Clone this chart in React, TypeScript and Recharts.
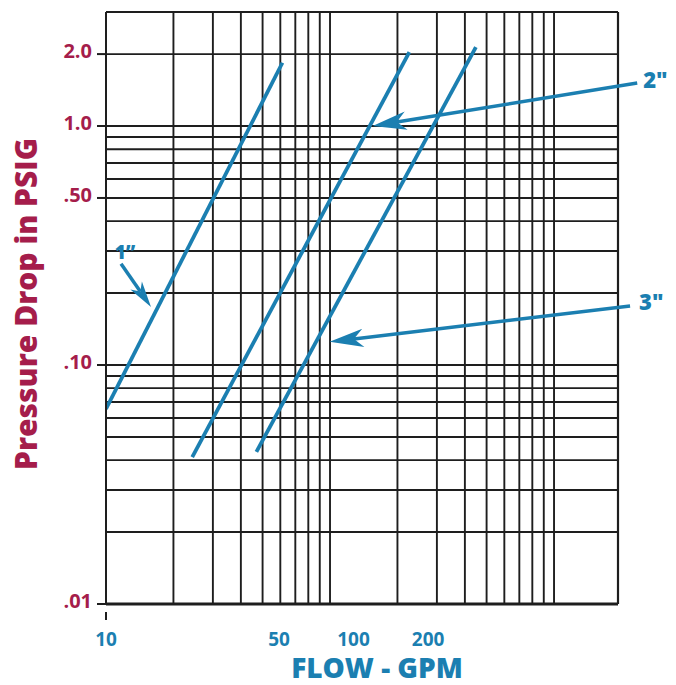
import React from 'react';
import { ComposedChart, Line, XAxis, YAxis, ReferenceLine, Label } from 'recharts';

const BLUE = '#1b7fb1';
const RED = '#a51d4b';
const INK = '#1e1e1e';
const FONT = '"Open Sans", Lato, sans-serif';

// end points of each pipe size line (flow in GPM, pressure drop in PSIG)
const FLOW_1IN = [10, 51.6];
const PSI_1IN = [0.0655, 1.84];
const FLOW_2IN = [22.3, 168];
const PSI_2IN = [0.0412, 2.04];
const FLOW_3IN = [40.5, 312];
const PSI_3IN = [0.0433, 2.14];

const X_TICKS = [10, 50, 100, 200];
const Y_TICKS = [0.01, 0.1, 0.5, 1, 2];
const Y_TICK_LABELS = ['.01', '.10', '.50', '1.0', '2.0'];

const FLOW_MAX = 1170;
const PSI_MAX = 3;

// printed log paper rulings; the paper has its own cycle length (10..1930 across the plot)
const PAPER_MAX = 1930;
const PAPER_X = [20, 30, 40, 50, 60, 70, 80, 90, 100, 200, 300, 400, 500, 600, 700, 800, 900, 1000];
const PAPER_Y = [0.02, 0.03, 0.04, 0.05, 0.06, 0.07, 0.08, 0.09, 0.1, 0.2, 0.3, 0.4, 0.5, 0.6, 0.7, 0.8, 0.9, 1, 2];

// callouts: label, tail and arrow tip
const NOTE_LABELS = ['1\u201d', '2"', '3"'];
const NOTE_TAIL_FLOW = [11.5, 1399, 1309];
const NOTE_TAIL_PSI = [0.265, 1.513, 0.1766];
const NOTE_TIP_FLOW = [15.2, 119.4, 80];
const NOTE_TIP_PSI = [0.175, 1.0, 0.125];

const toPoints = (flow: number[], psi: number[]) => flow.map((f, i) => ({ flow: f, psi: psi[i] }));

// paper ruling -> flow value at the same spot
const paperToFlow = (v: number) =>
  10 * Math.pow(v / 10, Math.log10(FLOW_MAX / 10) / Math.log10(PAPER_MAX / 10));

const arrowShape =
  (text: string, head: number, dx: number, dy: number, anchor: string, size: number) =>
  (p: any) => {
    const { x1, y1, x2, y2 } = p;
    const len = Math.hypot(x2 - x1, y2 - y1);
    const ux = (x2 - x1) / len;
    const uy = (y2 - y1) / len;
    const nx = -uy;
    const ny = ux;
    const w = head * 0.27;
    const bx = x2 - ux * head;
    const by = y2 - uy * head;
    const kx = x2 - ux * head * 0.72;
    const ky = y2 - uy * head * 0.72;
    return (
      <g>
        <line x1={x1} y1={y1} x2={kx} y2={ky} stroke={BLUE} strokeWidth={3.5} />
        <polygon
          points={`${x2},${y2} ${bx + nx * w},${by + ny * w} ${kx},${ky} ${bx - nx * w},${by - ny * w}`}
          fill={BLUE}
        />
        <text
          x={x1 + dx}
          y={y1 + dy}
          textAnchor={anchor}
          fill={BLUE}
          fontFamily={FONT}
          fontWeight={800}
          fontSize={size}
        >
          {text}
        </text>
      </g>
    );
  };

const FlowTick = (props: any) => {
  const { x, y, payload } = props;
  return (
    <g>
      {payload.value === 10 && <line x1={x} y1={y} x2={x} y2={y + 8} stroke={INK} strokeWidth={2} />}
      <text x={x} y={y + 34} textAnchor="middle" fill={BLUE} fontFamily={FONT} fontWeight={700} fontSize={19}>
        {payload.value}
      </text>
    </g>
  );
};

const PsiTick = (props: any) => {
  const { y, payload } = props;
  const i = Y_TICKS.indexOf(payload.value);
  return (
    <text x={92} y={y + 4} textAnchor="end" fill={RED} fontFamily={FONT} fontWeight={700} fontSize={20}>
      {Y_TICK_LABELS[i]}
    </text>
  );
};

const notes = [
  { head: 26, dx: 4, dy: -5, anchor: 'middle', size: 19 },
  { head: 34, dx: 6, dy: 5, anchor: 'start', size: 22 },
  { head: 34, dx: 9, dy: 4, anchor: 'start', size: 22 },
];

export default function App() {
  return (
    <div style={{ position: 'absolute', left: 0, top: 0 }}>
      <ComposedChart width={676} height={685} margin={{ top: 12, right: 58, bottom: 0, left: 0 }}>
        <XAxis
          xAxisId="flow"
          dataKey="flow"
          type="number"
          scale="log"
          domain={[10, FLOW_MAX]}
          allowDataOverflow
          ticks={X_TICKS}
          height={81}
          tick={<FlowTick />}
          tickLine={false}
          axisLine={{ stroke: INK, strokeWidth: 3 }}
        >
          <Label
            content={(p: any) => {
              const vb = p.viewBox;
              return (
                <text
                  x={vb.x + vb.width / 2 + 15}
                  y={678}
                  textAnchor="middle"
                  fill={BLUE}
                  fontFamily={FONT}
                  fontWeight={800}
                  fontSize={28}
                >
                  FLOW - GPM
                </text>
              );
            }}
          />
        </XAxis>
        <YAxis
          yAxisId="psi"
          type="number"
          scale="log"
          domain={[0.01, PSI_MAX]}
          allowDataOverflow
          ticks={Y_TICKS}
          width={106}
          tick={<PsiTick />}
          tickSize={9}
          tickLine={{ stroke: INK, strokeWidth: 2 }}
          axisLine={{ stroke: INK, strokeWidth: 2 }}
        >
          <Label
            content={(p: any) => {
              const vb = p.viewBox;
              const cy = vb.y + vb.height / 2 - 4;
              return (
                <text
                  x={37}
                  y={cy}
                  transform={`rotate(-90, 37, ${cy})`}
                  textAnchor="middle"
                  fill={RED}
                  fontFamily={FONT}
                  fontWeight={800}
                  fontSize={30}
                >
                  Pressure Drop in PSIG
                </text>
              );
            }}
          />
        </YAxis>

        {PAPER_Y.map((v) => (
          <ReferenceLine key={`h${v}`} xAxisId="flow" yAxisId="psi" y={v} stroke={INK} strokeWidth={1.9} />
        ))}
        {PAPER_X.map((v) => (
          <ReferenceLine
            key={`v${v}`}
            xAxisId="flow"
            yAxisId="psi"
            x={paperToFlow(v)}
            stroke={INK}
            strokeWidth={1.9}
          />
        ))}
        <ReferenceLine xAxisId="flow" yAxisId="psi" x={FLOW_MAX} stroke={INK} strokeWidth={2.2} />
        <ReferenceLine xAxisId="flow" yAxisId="psi" y={PSI_MAX} stroke={INK} strokeWidth={2.2} />

        <Line
          xAxisId="flow"
          yAxisId="psi"
          data={toPoints(FLOW_1IN, PSI_1IN)}
          dataKey="psi"
          stroke={BLUE}
          strokeWidth={3.8}
          dot={false}
          isAnimationActive={false}
        />
        <Line
          xAxisId="flow"
          yAxisId="psi"
          data={toPoints(FLOW_2IN, PSI_2IN)}
          dataKey="psi"
          stroke={BLUE}
          strokeWidth={3.8}
          dot={false}
          isAnimationActive={false}
        />
        <Line
          xAxisId="flow"
          yAxisId="psi"
          data={toPoints(FLOW_3IN, PSI_3IN)}
          dataKey="psi"
          stroke={BLUE}
          strokeWidth={3.8}
          dot={false}
          isAnimationActive={false}
        />

        {NOTE_LABELS.map((t, i) => (
          <ReferenceLine
            key={t}
            xAxisId="flow"
            yAxisId="psi"
            ifOverflow="visible"
            segment={[
              { x: NOTE_TAIL_FLOW[i], y: NOTE_TAIL_PSI[i] },
              { x: NOTE_TIP_FLOW[i], y: NOTE_TIP_PSI[i] },
            ]}
            shape={arrowShape(t, notes[i].head, notes[i].dx, notes[i].dy, notes[i].anchor, notes[i].size)}
          />
        ))}
      </ComposedChart>
    </div>
  );
}
